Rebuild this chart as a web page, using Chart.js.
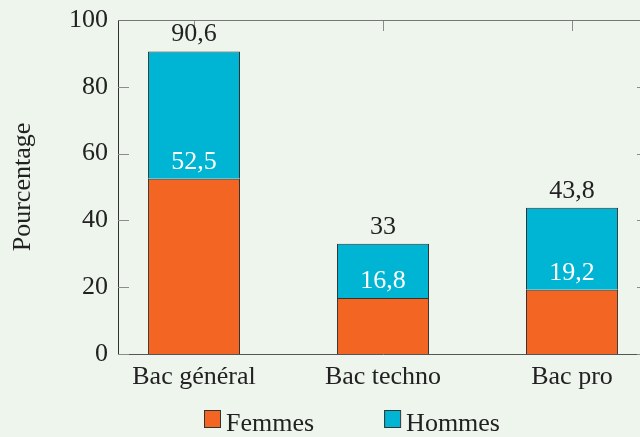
<!DOCTYPE html>
<html lang="fr">
<head>
    <meta charset="UTF-8">
    <title>Pourcentage par type de bac</title>
    <script src="https://cdn.jsdelivr.net/npm/chart.js"></script>
    <style>
        html, body {
            margin: 0;
            padding: 0;
            overflow: hidden;
            background-color: #eef5ed;
        }
        .chart-container {
            width: 660px;   /* the right edge of the frame lies past the window */
            height: 437px;
        }
    </style>
</head>
<body>
    <div class="chart-container">
        <canvas id="bacChart"></canvas>
    </div>

    <script>
        // Data
        const categories = ['Bac général', 'Bac techno', 'Bac pro'];
        const femmes = [52.5, 16.8, 19.2];
        const hommes = [38.1, 16.2, 24.6];
        const yTicks = [0, 20, 40, 60, 80, 100];

        const fontFamily = "'Liberation Serif', 'Times New Roman', serif";
        const textColor = '#222222';

        function fmt(v) {
            return String(Number(v.toFixed(1))).replace('.', ',');
        }

        // Frame (top/right) and inward tick marks, drawn under the bars
        const framePlugin = {
            id: 'frame',
            beforeDatasetsDraw(chart) {
                const { ctx, chartArea: a, scales } = chart;
                ctx.save();
                ctx.lineWidth = 1;
                ctx.strokeStyle = '#8c8c8c';
                ctx.beginPath();
                yTicks.forEach(v => {
                    const y = Math.round(scales.y.getPixelForValue(v)) + 0.5;
                    ctx.moveTo(a.left, y); ctx.lineTo(a.left + 11, y);
                    ctx.moveTo(a.right, y); ctx.lineTo(a.right - 11, y);
                });
                categories.forEach((c, i) => {
                    const x = Math.round(scales.x.getPixelForValue(i)) + 0.5;
                    ctx.moveTo(x, a.top); ctx.lineTo(x, a.top + 11);
                    ctx.moveTo(x, a.bottom); ctx.lineTo(x, a.bottom - 11);
                });
                ctx.stroke();
                ctx.strokeStyle = '#777777';
                ctx.beginPath();
                ctx.moveTo(a.left, Math.round(a.top) + 0.5);
                ctx.lineTo(a.right, Math.round(a.top) + 0.5);
                ctx.moveTo(Math.round(a.right) + 0.5, a.top);
                ctx.lineTo(Math.round(a.right) + 0.5, a.bottom);
                ctx.stroke();
                ctx.restore();
            }
        };

        // Value labels above each segment
        const labelPlugin = {
            id: 'valueLabels',
            afterDatasetsDraw(chart) {
                const { ctx } = chart;
                ctx.save();
                ctx.font = '26px ' + fontFamily;
                ctx.textAlign = 'center';
                ctx.textBaseline = 'alphabetic';
                chart.getDatasetMeta(0).data.forEach((bar, i) => {
                    ctx.fillStyle = '#ffffff';
                    ctx.fillText(fmt(femmes[i]), bar.x, bar.y - 10);
                });
                chart.getDatasetMeta(1).data.forEach((bar, i) => {
                    ctx.fillStyle = textColor;
                    ctx.fillText(fmt(femmes[i] + hommes[i]), bar.x, bar.y - 10);
                });
                ctx.restore();
            }
        };

        // Legend at the bottom
        const legendPlugin = {
            id: 'bottomLegend',
            afterDraw(chart) {
                const { ctx, chartArea: a } = chart;
                ctx.save();
                ctx.font = '26px ' + fontFamily;
                ctx.textBaseline = 'alphabetic';
                let x = a.left + 86;
                chart.data.datasets.forEach(ds => {
                    ctx.fillStyle = ds.backgroundColor;
                    ctx.fillRect(x, 410, 16, 17);
                    ctx.strokeStyle = '#333333';
                    ctx.lineWidth = 1;
                    ctx.strokeRect(x + 0.5, 410.5, 16, 17);
                    ctx.fillStyle = textColor;
                    ctx.fillText(ds.label, x + 22, 431);
                    x += 22 + ctx.measureText(ds.label).width + 70;
                });
                ctx.restore();
            }
        };

        const ctxBac = document.getElementById('bacChart').getContext('2d');
        new Chart(ctxBac, {
            type: 'bar',
            data: {
                datasets: [{
                    label: 'Femmes',
                    data: femmes.map((v, i) => ({ x: i, y: v })),
                    backgroundColor: '#f26522',
                    borderColor: '#333333',
                    borderWidth: 1,
                    barPercentage: 0.487,
                    categoryPercentage: 1
                }, {
                    label: 'Hommes',
                    data: hommes.map((v, i) => ({ x: i, y: v })),
                    backgroundColor: '#00b5d3',
                    borderColor: '#333333',
                    borderWidth: 1,
                    barPercentage: 0.487,
                    categoryPercentage: 1
                }]
            },
            options: {
                responsive: true,
                maintainAspectRatio: false,
                animation: false,
                layout: {
                    padding: { top: 20, right: 12, bottom: 0, left: 0 }
                },
                plugins: {
                    legend: { display: false },
                    tooltip: { enabled: false }
                },
                scales: {
                    x: {
                        type: 'linear',
                        stacked: true,
                        offset: false,
                        min: -0.402,
                        max: 2.402,
                        afterBuildTicks: scale => {
                            scale.ticks = categories.map((c, i) => ({ value: i }));
                        },
                        afterFit: scale => {
                            scale.height = 83;
                            scale.paddingLeft = 0;
                            scale.paddingRight = 0;
                        },
                        grid: { display: false, drawTicks: false, offset: false },
                        border: { display: true, color: '#555555', width: 1 },
                        ticks: {
                            autoSkip: false,
                            maxRotation: 0,
                            padding: 8,
                            color: textColor,
                            font: { family: fontFamily, size: 26 },
                            callback: v => categories[v]
                        }
                    },
                    y: {
                        stacked: true,
                        min: 0,
                        max: 100,
                        afterFit: scale => {
                            scale.width = 118;
                            scale.paddingTop = 0;
                            scale.paddingBottom = 0;
                        },
                        grid: { display: false, drawTicks: false },
                        border: { display: true, color: '#333333', width: 1 },
                        ticks: {
                            stepSize: 20,
                            padding: 10,
                            color: textColor,
                            font: { family: fontFamily, size: 26 }
                        },
                        title: {
                            display: true,
                            text: 'Pourcentage',
                            color: textColor,
                            font: { family: fontFamily, size: 26 },
                            padding: { top: 8, bottom: 0 }
                        }
                    }
                }
            },
            plugins: [framePlugin, labelPlugin, legendPlugin]
        });
    </script>
</body>
</html>
